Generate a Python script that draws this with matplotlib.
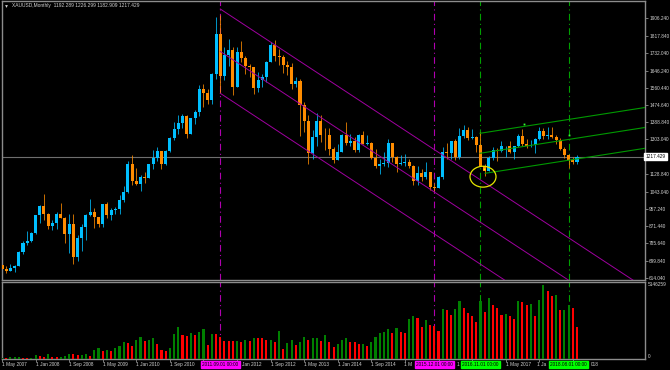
import numpy as np
import pandas as pd
import matplotlib
matplotlib.use('agg')
import matplotlib.pyplot as plt
from matplotlib.patches import Ellipse

plt.rcParams['font.family'] = ['Liberation Sans', 'DejaVu Sans']

# monthly XAUUSD bars, May 2007 .. Oct 2018
months = pd.date_range('2007-05-01', '2018-10-01', freq='MS')

open_ = [679, 659, 650, 665, 672, 743, 788, 796,
         838, 925, 972, 933, 870, 886, 930, 912, 833, 880, 718, 814,
         869, 927, 942, 916, 884, 979, 926, 954, 955, 1001, 1040, 1181,
         1096, 1081, 1118, 1113, 1179, 1212, 1244, 1181, 1247, 1308, 1357, 1386,
         1421, 1332, 1410, 1439, 1556, 1536, 1500, 1628, 1826, 1620, 1722, 1746,
         1566, 1737, 1710, 1669, 1664, 1560, 1598, 1614, 1691, 1773, 1719, 1712,
         1675, 1663, 1578, 1596, 1472, 1393, 1234, 1313, 1396, 1327, 1323, 1253,
         1202, 1240, 1326, 1284, 1296, 1250, 1327, 1282, 1287, 1209, 1172, 1182,
         1184, 1283, 1213, 1183, 1184, 1190, 1172, 1095, 1135, 1115, 1142, 1065,
         1061, 1118, 1238, 1233, 1293, 1215, 1321, 1351, 1309, 1316, 1277, 1173,
         1146, 1211, 1249, 1247, 1268, 1269, 1242, 1269, 1322, 1280, 1271, 1275,
         1303, 1345, 1318, 1325, 1315, 1298, 1253, 1224, 1201, 1192.289]
high = [692, 673, 683, 676, 745, 796, 846, 842,
        929, 975, 1033, 935, 904, 943, 988, 917, 931, 932, 827, 881,
        931, 1006, 963, 918, 981, 990, 960, 964, 1024, 1070, 1195, 1227,
        1162, 1126, 1140, 1183, 1249, 1266, 1245, 1252, 1314, 1388, 1425, 1431,
        1424, 1411, 1448, 1575, 1577, 1553, 1632, 1912, 1921, 1764, 1803, 1764,
        1764, 1791, 1719, 1677, 1666, 1641, 1631, 1692, 1790, 1796, 1755, 1723,
        1694, 1684, 1616, 1605, 1488, 1423, 1348, 1434, 1424, 1362, 1361, 1267,
        1280, 1332, 1392, 1331, 1315, 1332, 1345, 1323, 1291, 1255, 1208, 1238,
        1307, 1287, 1219, 1224, 1232, 1205, 1175, 1170, 1157, 1191, 1143, 1088,
        1123, 1263, 1283, 1297, 1304, 1362, 1375, 1367, 1353, 1318, 1338, 1181,
        1220, 1264, 1262, 1296, 1270, 1296, 1270, 1331, 1357, 1306, 1299, 1309,
        1366, 1361, 1365, 1365, 1326, 1309, 1265, 1228, 1214, 1226.299]
low = [651, 640, 648, 642, 671, 730, 776, 790,
       834, 889, 903, 856, 852, 858, 911, 786, 735, 681, 700, 746,
       800, 922, 864, 865, 868, 913, 904, 931, 932, 992, 1036, 1075,
       1075, 1044, 1087, 1112, 1155, 1195, 1155, 1175, 1240, 1300, 1330, 1360,
       1308, 1328, 1381, 1418, 1462, 1478, 1478, 1604, 1535, 1600, 1669, 1523,
       1563, 1689, 1628, 1613, 1527, 1540, 1564, 1589, 1690, 1692, 1672, 1636,
       1626, 1555, 1562, 1321, 1338, 1180, 1208, 1271, 1292, 1251, 1226, 1187,
       1200, 1238, 1277, 1268, 1240, 1241, 1281, 1273, 1206, 1160, 1131, 1170,
       1167, 1190, 1142, 1175, 1170, 1162, 1077, 1077, 1098, 1108, 1052, 1046,
       1060, 1107, 1208, 1207, 1200, 1208, 1310, 1302, 1305, 1241, 1171, 1123,
       1145, 1200, 1195, 1241, 1214, 1236, 1204, 1267, 1271, 1261, 1264, 1237,
       1302, 1307, 1303, 1310, 1282, 1250, 1211, 1160, 1180, 1182.909]
close = [659, 650, 665, 672, 743, 788, 796, 838,
         925, 972, 933, 870, 886, 930, 912, 833, 880, 718, 814, 869,
         927, 942, 916, 884, 979, 926, 954, 955, 1001, 1040, 1181, 1096,
         1081, 1118, 1113, 1179, 1212, 1244, 1181, 1247, 1308, 1357, 1386, 1421,
         1332, 1410, 1439, 1556, 1536, 1500, 1628, 1826, 1620, 1722, 1746, 1566,
         1737, 1710, 1669, 1664, 1560, 1598, 1614, 1691, 1773, 1719, 1712, 1675,
         1663, 1578, 1596, 1472, 1393, 1234, 1313, 1396, 1327, 1323, 1253, 1202,
         1240, 1326, 1284, 1296, 1250, 1327, 1282, 1287, 1209, 1172, 1182, 1184,
         1283, 1213, 1183, 1184, 1190, 1172, 1095, 1135, 1115, 1142, 1065, 1061,
         1118, 1238, 1233, 1293, 1215, 1321, 1351, 1309, 1316, 1277, 1173, 1146,
         1211, 1249, 1247, 1268, 1269, 1242, 1269, 1322, 1280, 1271, 1275, 1303,
         1345, 1318, 1325, 1315, 1298, 1253, 1224, 1201, 1192, 1217.429]
# tick volume, thousands
volume_k = [93, 46, 116, 127, 139, 93, 46, 93,
            301, 232, 116, 371, 116, 104, 116, 185, 371, 325, 255, 301,
            325, 185, 603, 788, 556, 649, 556, 788, 927, 1182, 1113, 881,
            1344, 1553, 1229, 1298, 1484, 1043, 649, 556, 788, 1739, 2202, 1646,
            1576, 1785, 1669, 1878, 2086, 950, 1715, 1704, 1542, 1252, 1248, 1245,
            1275, 1182, 1344, 1252, 1484, 1472, 1437, 1298, 1321, 1182, 1970, 719,
            1090, 1298, 950, 1182, 1507, 1321, 1437, 1484, 1229, 1646, 1182, 811,
            1020, 1321, 1437, 1182, 1159, 1020, 1043, 904, 1159, 1553, 1831, 1901,
            2109, 1785, 2179, 1878, 1785, 2758, 2944, 2805, 2225, 2689, 2341, 2318,
            1947, 3454, 3384, 3037, 3477, 4033, 3524, 3199, 2967, 2573, 3987, 3269,
            4219, 3709, 3524, 3037, 3106, 2967, 2758, 3987, 3975, 3732, 3778, 2967,
            4103, 5146.259, 4706, 4335, 4404, 3361, 3408, 3732, 3524, 2202]

price_ticks = [1906.24, 1817.84, 1732.04, 1646.24, 1560.44, 1474.64, 1388.84, 1303.04,
               1128.84, 1043.04, 957.24, 871.44, 785.64, 699.84, 614.04]
last_price = 1217.429

# marked dates (vertical lines + labels)
purple_marks = ['2011-09-01', '2015-12-01']
green_marks = ['2016-11-01', '2018-08-01']
# parts of date labels still visible beside the marker boxes: (text, mark, side)
date_fragments = [('Jan 2012', '2011-09-01', 'right'), ('1 M', '2015-12-01', 'left'),
                  ('1', '2015-12-01', 'right'), ('1 Ja', '2018-08-01', 'left'),
                  ('018', '2018-08-01', 'right')]

# descending channel from Sep 2011: start values, slope per bar
purple_start = [1952.6, 1741.4, 1532.7]
purple_slope = -13.73
# rising channel from Nov 2016
green_start_x = [113.9, 113.9, 115.1]
green_start = [1333.5, 1234.0, 1134.3]
green_slope = 3.27

o = np.array(open_); h = np.array(high); l = np.array(low); c = np.array(close)
v = np.array(volume_k) * 1000
x = np.arange(len(months))

W, H = 670, 370
fig = plt.figure(figsize=(6.7, 3.7), dpi=100)
fig.patch.set_facecolor('black')
ax = fig.add_axes([1.5/W, 1 - 280/H, 643.5/W, 279/H])
axv = fig.add_axes([1.5/W, 1 - 359/H, 643.5/W, 77/H], sharex=ax)

grey = '#8c8c8c'
txt = '#d2d2d2'
fs = 3.4
for a in (ax, axv):
    a.set_facecolor('black')
    for s in a.spines.values():
        s.set_color(grey)
        s.set_linewidth(1.0)

x_of = lambda d: months.get_loc(pd.Timestamp(d))

# vertical marker lines
for d in purple_marks:
    for a in (ax, axv):
        a.axvline(x_of(d), color='#b000b0', lw=0.8, ls=(0, (6, 3, 1, 3)), zorder=1)
for d in green_marks:
    for a in (ax, axv):
        a.axvline(x_of(d), color='#00a000', lw=0.8, ls=(0, (6, 3, 1, 3)), zorder=1)

# current price line
ax.axhline(last_price, color='#6e6e6e', lw=0.8, zorder=1)

# candles
up = c >= o
bull, bear = '#00bfff', '#ff8c00'
cols = np.where(up, bull, bear)
ax.vlines(x, l, h, colors=cols, lw=0.55, zorder=2)
body_lo = np.minimum(o, c)
body_h = np.maximum(np.abs(c - o), 2.5)
ax.bar(x, body_h, bottom=body_lo, width=0.72, color=cols, linewidth=0, zorder=3)

# channels
x0 = x_of(purple_marks[0])
xe = 160
for p0 in purple_start:
    ax.plot([x0, xe], [p0, p0 + purple_slope * (xe - x0)], color='#a000a0', lw=0.7, zorder=4)
for gx, g0 in zip(green_start_x, green_start):
    ax.plot([gx, xe], [g0, g0 + green_slope * (xe - gx)], color='#009900', lw=0.8, zorder=4)

# anchor handles
ax.plot([124.4, 135], [1381, 1325], 's', ms=1.3, color='#33ff33', mew=0, zorder=5)
ax.plot([114.8], [1157], 's', ms=1.3, color='#ffff00', mew=0, zorder=5)

# yellow circle
ax.add_patch(Ellipse((114.6, 1117.4), 6.2, 104, fill=False, edgecolor='#e6e600', lw=0.9, zorder=5))

ax.set_xlim(-0.12, 153.2)
ax.set_ylim(602.9, 1992.4)

ax.yaxis.tick_right()
ax.set_yticks(price_ticks)
ax.set_yticklabels(['%.3f' % t for t in price_ticks])
ax.tick_params(axis='y', colors=grey, labelcolor=txt, labelsize=fs, length=2, width=0.6, pad=1)
ax.tick_params(axis='x', bottom=False, labelbottom=False)
ax.text(1.0 + 0.5/643.5, last_price, '%.3f' % last_price, transform=ax.get_yaxis_transform(),
        fontsize=fs, color='black', va='center', ha='left',
        bbox=dict(boxstyle='square,pad=0.25', fc='white', ec='white'), zorder=6, clip_on=False)

# header
ax.text(10/643.5, 1 - 4.7/279, 'XAUUSD,Monthly  %.3f %.3f %.3f %.3f' % (o[-1], h[-1], l[-1], c[-1]),
        transform=ax.transAxes, fontsize=3.5, color=txt, va='center', ha='left')
ax.plot([4/643.5], [1 - 4.7/279], 'v', ms=2, color=txt, mew=0, transform=ax.transAxes)

# volumes (green when rising, red when falling)
vcols = ['#008000'] + ['#008000' if v[i] > v[i - 1] else '#ff0000' for i in range(1, len(v))]
axv.bar(x, v, width=0.5, color=vcols, linewidth=0, zorder=3)
axv.set_ylim(0, v.max() / 0.965)
axv.yaxis.tick_right()
axv.set_yticks([])
axv.text(1.0 + 3/643.5, v.max(), '%d' % v.max(), transform=axv.get_yaxis_transform(),
         fontsize=fs, color=txt, va='center', ha='left')
axv.text(1.0 + 3/643.5, 0.0, '0', transform=axv.transAxes, fontsize=fs, color=txt,
         va='bottom', ha='left')

# date axis
marks_all = [x_of(d) for d in purple_marks + green_marks]
half_box = 5.0  # marker label half-width in bars
date_idx = list(range(0, len(months), 8))
axv.set_xticks(date_idx)
axv.set_xticklabels([])
axv.tick_params(axis='x', colors=grey, length=2, width=0.6)
for i in date_idx:
    if any(i < m + half_box and i + 6 > m - half_box for m in marks_all):
        continue  # covered by a marker label
    axv.annotate('1 ' + months[i].strftime('%b %Y'), xy=(i, 0), xycoords=('data', 'axes fraction'),
                 xytext=(0, -5.5), textcoords='offset pixels', fontsize=fs, color=txt,
                 ha='left', va='center', annotation_clip=False)
for frag, d, side in date_fragments:
    dx = 22 if side == 'right' else -22
    axv.annotate(frag, xy=(x_of(d), 0), xycoords=('data', 'axes fraction'),
                 xytext=(dx, -5.5), textcoords='offset pixels', fontsize=fs, color=txt,
                 ha='left' if side == 'right' else 'right', va='center', annotation_clip=False)
for marks, fc in ((purple_marks, '#ff00ff'), (green_marks, '#00ff00')):
    for d in marks:
        axv.annotate(pd.Timestamp(d).strftime('%Y.%m.%d 00:00'), xy=(x_of(d), 0),
                     xycoords=('data', 'axes fraction'), xytext=(0, -5.5), textcoords='offset pixels',
                     fontsize=fs, color='black', ha='center', va='center', annotation_clip=False,
                     bbox=dict(boxstyle='square,pad=0.3', fc=fc, ec=fc), zorder=10)

fig.savefig('out.png', dpi=100, facecolor='black')
